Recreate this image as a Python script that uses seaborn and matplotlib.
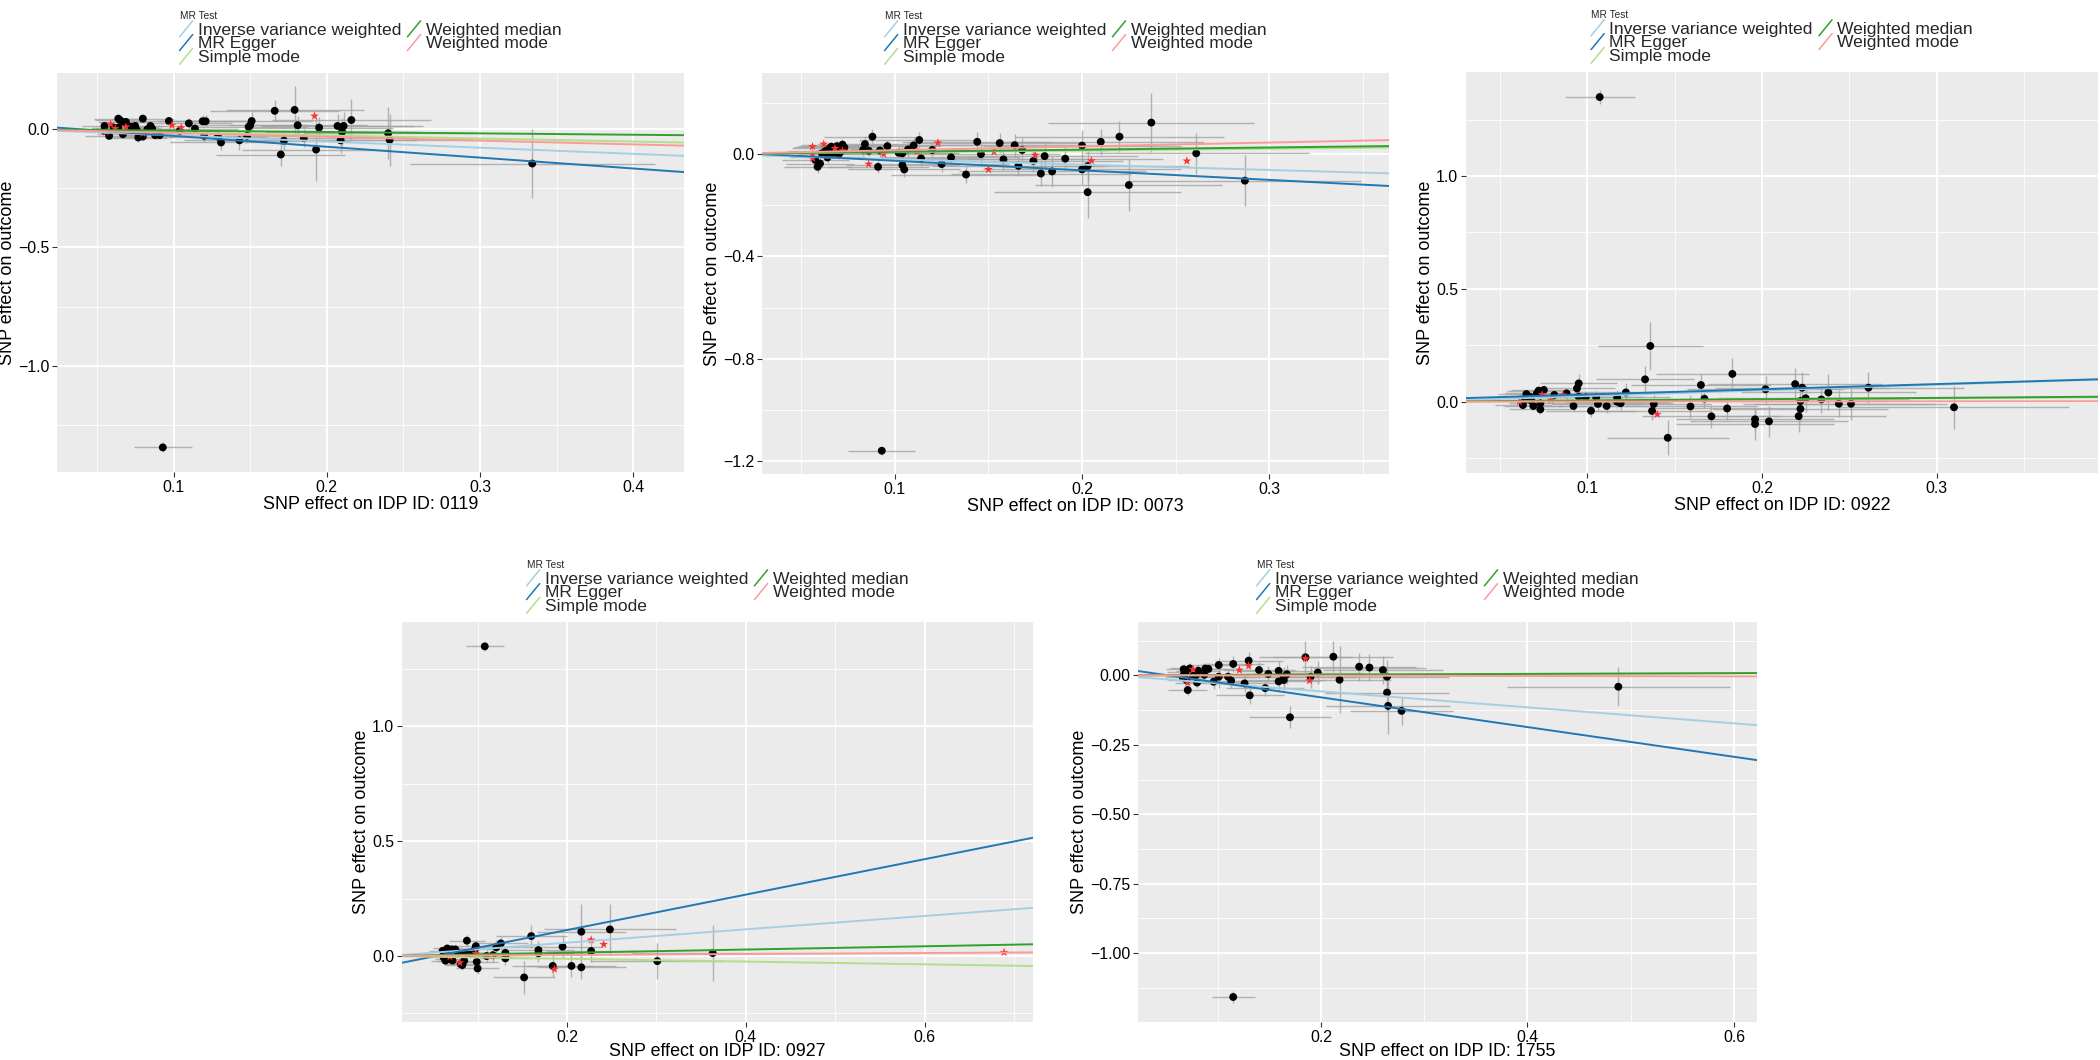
import matplotlib
matplotlib.use('Agg')
import pandas as pd
import matplotlib.pyplot as plt
import seaborn as sns
from matplotlib.lines import Line2D
from matplotlib.legend_handler import HandlerBase

# MR methods and colours (RColorBrewer Paired, as in TwoSampleMR)
methods = ['Inverse variance weighted', 'MR Egger', 'Simple mode', 'Weighted median', 'Weighted mode']
method_colors = ['#a6cee3', '#1f78b4', '#b2df8a', '#33a02c', '#fb9a99']

#Panel 1 - IDP 0119
p1_x = [0.055, 0.055, 0.058, 0.061, 0.064, 0.064, 0.065, 0.067, 0.067, 0.069, 0.071, 0.072, 0.074, 0.075,
        0.076, 0.077, 0.080, 0.080, 0.083, 0.085, 0.086, 0.088, 0.091, 0.097, 0.104, 0.110, 0.114, 0.119,
        0.121, 0.120, 0.129, 0.131, 0.143, 0.148, 0.149, 0.150, 0.151, 0.166, 0.170, 0.172, 0.179, 0.181,
        0.185, 0.193, 0.195, 0.207, 0.209, 0.210, 0.211, 0.216, 0.240, 0.241, 0.334, 0.093]
p1_y = [0.014, -0.007, -0.028, 0.007, 0.045, 0.007, 0.039, -0.021, 0.031, 0.031, 0.011, 0.011, 0.007, 0.014,
        -0.003, -0.035, 0.045, -0.031, 0.0, 0.014, 0.003, -0.025, -0.025, 0.035, -0.007, 0.025, 0.003, 0.034,
        0.034, -0.028, -0.031, -0.056, -0.047, -0.028, 0.010, 0.017, 0.035, 0.078, -0.107, -0.048, 0.082, 0.017,
        -0.037, -0.086, 0.007, 0.014, -0.047, -0.011, 0.014, 0.039, -0.017, -0.045, -0.145, -1.346]
p1_sx = [0.015, 0.014, 0.016, 0.015, 0.016, 0.015, 0.016, 0.017, 0.016, 0.017, 0.018, 0.018, 0.018, 0.018,
         0.019, 0.019, 0.020, 0.020, 0.020, 0.021, 0.021, 0.022, 0.022, 0.025, 0.026, 0.028, 0.028, 0.030,
         0.030, 0.030, 0.032, 0.033, 0.036, 0.037, 0.038, 0.038, 0.040, 0.042, 0.042, 0.043, 0.045, 0.045,
         0.046, 0.048, 0.048, 0.050, 0.050, 0.050, 0.052, 0.052, 0.055, 0.055, 0.080, 0.019]
p1_sy = [0.012, 0.012, 0.015, 0.012, 0.014, 0.012, 0.013, 0.015, 0.013, 0.013, 0.013, 0.013, 0.014, 0.014,
         0.015, 0.018, 0.015, 0.016, 0.015, 0.016, 0.016, 0.017, 0.017, 0.018, 0.020, 0.022, 0.020, 0.025,
         0.025, 0.024, 0.026, 0.030, 0.040, 0.030, 0.035, 0.035, 0.040, 0.045, 0.050, 0.040, 0.100, 0.040,
         0.040, 0.135, 0.045, 0.050, 0.055, 0.060, 0.060, 0.090, 0.110, 0.110, 0.145, 0.021]
p1_rx = [0.056, 0.059, 0.062, 0.069, 0.080, 0.099, 0.105, 0.192]
p1_ry = [-0.011, 0.021, 0.003, 0.010, -0.017, 0.017, 0.007, 0.056]
p1_slope = [-0.26, -0.46, -0.13, -0.058, -0.16]
p1_icpt = [0.0, 0.018, 0.0, 0.0, 0.0]

#Panel 2 - IDP 0073
p2_x = [0.0575, 0.0587, 0.060, 0.061, 0.063, 0.064, 0.065, 0.066, 0.067, 0.069, 0.070, 0.071, 0.072, 0.073,
        0.083, 0.084, 0.086, 0.088, 0.091, 0.092, 0.096, 0.102, 0.104, 0.104, 0.105, 0.107, 0.110, 0.113,
        0.114, 0.120, 0.125, 0.130, 0.138, 0.144, 0.146, 0.156, 0.158, 0.164, 0.166, 0.168, 0.174, 0.178,
        0.180, 0.184, 0.191, 0.200, 0.200, 0.203, 0.203, 0.210, 0.220, 0.225, 0.237, 0.261, 0.287, 0.093]
p2_y = [-0.023, -0.050, -0.037, 0.003, 0.013, -0.013, 0.022, 0.029, 0.003, 0.031, 0.0, 0.009, 0.037, 0.026,
        0.016, 0.039, 0.013, 0.068, -0.050, 0.014, 0.031, 0.005, -0.043, 0.003, -0.060, 0.018, 0.034, 0.055,
        -0.017, 0.016, -0.039, -0.013, -0.080, 0.048, 0.0, 0.043, -0.021, 0.035, -0.046, 0.016, -0.027, -0.076,
        -0.008, -0.068, -0.018, 0.033, -0.060, -0.047, -0.149, 0.048, 0.068, -0.121, 0.123, 0.003, -0.104, -1.160]
p2_sx = [0.018, 0.018, 0.018, 0.020, 0.020, 0.020, 0.020, 0.020, 0.021, 0.021, 0.022, 0.022, 0.022, 0.022,
         0.025, 0.025, 0.025, 0.026, 0.027, 0.027, 0.028, 0.030, 0.030, 0.030, 0.030, 0.031, 0.032, 0.032,
         0.033, 0.035, 0.036, 0.037, 0.040, 0.040, 0.042, 0.044, 0.045, 0.046, 0.046, 0.047, 0.048, 0.048,
         0.050, 0.050, 0.052, 0.053, 0.053, 0.054, 0.050, 0.055, 0.056, 0.050, 0.055, 0.060, 0.062, 0.018]
p2_sy = [0.020, 0.025, 0.020, 0.018, 0.018, 0.020, 0.018, 0.018, 0.018, 0.020, 0.020, 0.020, 0.022, 0.020,
         0.025, 0.030, 0.022, 0.030, 0.025, 0.025, 0.025, 0.028, 0.030, 0.028, 0.030, 0.028, 0.030, 0.030,
         0.030, 0.030, 0.030, 0.030, 0.035, 0.040, 0.040, 0.040, 0.040, 0.045, 0.040, 0.045, 0.045, 0.050,
         0.050, 0.060, 0.050, 0.060, 0.060, 0.060, 0.100, 0.050, 0.060, 0.100, 0.115, 0.080, 0.100, 0.015]
p2_rx = [0.056, 0.056, 0.056, 0.062, 0.068, 0.072, 0.086, 0.094, 0.112, 0.123, 0.150, 0.153, 0.175, 0.205, 0.256]
p2_ry = [0.029, 0.0, -0.017, 0.039, 0.022, 0.013, -0.039, 0.0, 0.010, 0.044, -0.060, 0.009, -0.004, -0.026, -0.027]
p2_slope = [-0.207, -0.373, 0.07, 0.086, 0.15]
p2_icpt = [0.0, 0.011, 0.0, 0.0, 0.0]

#Panel 3 - IDP 0922
p3_x = [0.107, 0.136, 0.133, 0.095, 0.094, 0.183, 0.165, 0.167, 0.202, 0.219, 0.223, 0.238, 0.261, 0.225,
        0.222, 0.234, 0.244, 0.251, 0.310, 0.222, 0.221, 0.196, 0.196, 0.204, 0.180, 0.171, 0.159, 0.146,
        0.137, 0.138, 0.122, 0.117, 0.117, 0.119, 0.111, 0.106, 0.105, 0.102, 0.099, 0.095, 0.092, 0.088,
        0.081, 0.075, 0.072, 0.071, 0.073, 0.073, 0.069, 0.068, 0.067, 0.065, 0.064, 0.063, 0.065]
p3_y = [1.350, 0.247, 0.099, 0.081, 0.059, 0.123, 0.074, 0.013, 0.055, 0.078, 0.062, 0.041, 0.062, 0.015,
        0.003, 0.010, -0.009, -0.009, -0.025, -0.032, -0.064, -0.078, -0.099, -0.087, -0.030, -0.065, -0.021, -0.160,
        -0.041, -0.010, 0.041, 0.019, 0.0, -0.007, -0.019, -0.010, 0.019, -0.040, 0.019, 0.022, -0.019, 0.037,
        0.030, 0.052, 0.049, 0.037, -0.007, -0.034, -0.019, 0.003, 0.022, 0.034, 0.007, -0.015, 0.022]
p3_sx = [0.020, 0.030, 0.028, 0.022, 0.022, 0.044, 0.040, 0.040, 0.045, 0.050, 0.050, 0.050, 0.055, 0.050,
         0.050, 0.050, 0.055, 0.055, 0.066, 0.050, 0.050, 0.045, 0.045, 0.045, 0.042, 0.040, 0.038, 0.035,
         0.033, 0.033, 0.030, 0.030, 0.030, 0.030, 0.028, 0.027, 0.027, 0.026, 0.025, 0.024, 0.023, 0.022,
         0.020, 0.019, 0.018, 0.018, 0.018, 0.018, 0.017, 0.017, 0.016, 0.016, 0.016, 0.016, 0.016]
p3_sy = [0.030, 0.105, 0.060, 0.040, 0.040, 0.070, 0.050, 0.040, 0.060, 0.070, 0.070, 0.080, 0.070, 0.060,
         0.070, 0.060, 0.060, 0.070, 0.095, 0.060, 0.070, 0.050, 0.070, 0.070, 0.050, 0.050, 0.050, 0.077,
         0.040, 0.040, 0.040, 0.035, 0.030, 0.030, 0.030, 0.030, 0.030, 0.030, 0.030, 0.025, 0.025, 0.025,
         0.022, 0.022, 0.020, 0.020, 0.020, 0.022, 0.020, 0.018, 0.018, 0.018, 0.018, 0.018, 0.018]
p3_rx = [0.140, 0.086, 0.079, 0.074, 0.061]
p3_ry = [-0.056, 0.030, 0.007, 0.032, 0.0]
p3_slope = [0.25, 0.23, 0.05, 0.056, 0.005]
p3_icpt = [0.0, 0.009, 0.0, 0.0, 0.0]

#Panel 4 - IDP 0927
p4_x = [0.108, 0.088, 0.061, 0.062, 0.066, 0.064, 0.068, 0.069, 0.071, 0.072, 0.075, 0.078, 0.081, 0.083,
        0.085, 0.086, 0.089, 0.092, 0.097, 0.098, 0.099, 0.100, 0.110, 0.117, 0.121, 0.126, 0.131, 0.131,
        0.152, 0.160, 0.168, 0.168, 0.184, 0.195, 0.205, 0.216, 0.216, 0.227, 0.248, 0.301, 0.363]
p4_y = [1.348, 0.067, 0.023, -0.006, 0.033, -0.020, 0.004, -0.014, 0.029, -0.020, 0.029, 0.012, -0.035, -0.039,
        -0.020, 0.014, 0.014, 0.012, 0.029, 0.043, -0.025, -0.054, 0.0, 0.004, 0.038, 0.055, 0.014, -0.010,
        -0.093, 0.087, 0.026, 0.012, -0.043, 0.041, -0.043, 0.106, -0.049, 0.022, 0.116, -0.022, 0.013]
p4_sx = [0.021, 0.020, 0.015, 0.015, 0.016, 0.016, 0.016, 0.017, 0.017, 0.017, 0.018, 0.018, 0.019, 0.019,
         0.020, 0.020, 0.021, 0.022, 0.023, 0.023, 0.024, 0.024, 0.026, 0.028, 0.028, 0.030, 0.030, 0.030,
         0.035, 0.040, 0.040, 0.040, 0.045, 0.045, 0.050, 0.050, 0.050, 0.050, 0.074, 0.075, 0.090]
p4_sy = [0.020, 0.025, 0.015, 0.015, 0.016, 0.016, 0.015, 0.016, 0.017, 0.017, 0.017, 0.018, 0.020, 0.020,
         0.020, 0.020, 0.020, 0.022, 0.022, 0.025, 0.025, 0.025, 0.025, 0.030, 0.030, 0.030, 0.030, 0.030,
         0.070, 0.050, 0.040, 0.040, 0.050, 0.050, 0.050, 0.120, 0.050, 0.050, 0.110, 0.078, 0.123]
p4_rx = [0.069, 0.080, 0.098, 0.115, 0.186, 0.227, 0.241, 0.689]
p4_ry = [-0.003, -0.029, 0.012, 0.0, -0.057, 0.070, 0.051, 0.016]
p4_slope = [0.291, 0.771, -0.060, 0.071, 0.022]
p4_icpt = [0.0, -0.041, 0.0, 0.0, 0.0]

#Panel 5 - IDP 1755
p5_x = [0.115, 0.488, 0.170, 0.185, 0.212, 0.237, 0.247, 0.260, 0.264, 0.264, 0.265, 0.278, 0.218, 0.197,
        0.190, 0.164, 0.167, 0.164, 0.159, 0.159, 0.149, 0.146, 0.140, 0.131, 0.130, 0.126, 0.115, 0.113,
        0.110, 0.101, 0.101, 0.096, 0.091, 0.088, 0.087, 0.081, 0.080, 0.079, 0.076, 0.073, 0.071, 0.070,
        0.069, 0.067, 0.067, 0.066]
p5_y = [-1.158, -0.041, -0.151, 0.065, 0.067, 0.031, 0.028, 0.019, -0.005, -0.062, -0.110, -0.128, -0.016, 0.010,
        -0.005, -0.005, 0.004, -0.017, 0.016, -0.022, 0.005, -0.046, 0.019, -0.072, 0.053, -0.029, 0.041, -0.019,
        -0.005, 0.037, -0.005, -0.023, 0.023, 0.024, 0.002, 0.017, -0.026, 0.001, -0.002, 0.025, -0.053, -0.017,
        0.013, 0.022, 0.001, -0.007]
p5_sx = [0.021, 0.108, 0.040, 0.045, 0.058, 0.055, 0.055, 0.058, 0.060, 0.060, 0.060, 0.050, 0.050, 0.045,
         0.045, 0.040, 0.040, 0.040, 0.040, 0.040, 0.038, 0.038, 0.035, 0.033, 0.033, 0.032, 0.030, 0.030,
         0.028, 0.026, 0.026, 0.025, 0.024, 0.023, 0.023, 0.021, 0.021, 0.020, 0.020, 0.019, 0.019, 0.018,
         0.018, 0.017, 0.017, 0.017]
p5_sy = [0.020, 0.070, 0.040, 0.060, 0.055, 0.050, 0.050, 0.050, 0.060, 0.070, 0.100, 0.050, 0.120, 0.040,
         0.040, 0.035, 0.035, 0.035, 0.035, 0.035, 0.030, 0.030, 0.030, 0.030, 0.030, 0.030, 0.028, 0.028,
         0.025, 0.025, 0.040, 0.025, 0.022, 0.022, 0.022, 0.020, 0.020, 0.020, 0.020, 0.018, 0.018, 0.018,
         0.018, 0.018, 0.018, 0.018]
p5_rx = [0.185, 0.189, 0.130, 0.121, 0.076, 0.071]
p5_ry = [0.060, -0.019, 0.034, 0.019, 0.022, -0.026]
p5_slope = [-0.288, -0.535, 0.012, 0.013, -0.006]
p5_icpt = [0.0, 0.0277, 0.0, 0.0, 0.0]

#Axis ticks and labels
idp_ids = ['0119', '0073', '0922', '0927', '1755']
p1_xt, p1_xtl = [0.1, 0.2, 0.3, 0.4], ['0.1', '0.2', '0.3', '0.4']
p1_yt, p1_ytl = [0.0, -0.5, -1.0], ['0.0', '\u22120.5', '\u22121.0']
p2_xt, p2_xtl = [0.1, 0.2, 0.3], ['0.1', '0.2', '0.3']
p2_yt, p2_ytl = [0.0, -0.4, -0.8, -1.2], ['0.0', '\u22120.4', '\u22120.8', '\u22121.2']
p3_xt, p3_xtl = [0.1, 0.2, 0.3], ['0.1', '0.2', '0.3']
p3_yt, p3_ytl = [0.0, 0.5, 1.0], ['0.0', '0.5', '1.0']
p4_xt, p4_xtl = [0.2, 0.4, 0.6], ['0.2', '0.4', '0.6']
p4_yt, p4_ytl = [0.0, 0.5, 1.0], ['0.0', '0.5', '1.0']
p5_xt, p5_xtl = [0.2, 0.4, 0.6], ['0.2', '0.4', '0.6']
p5_yt, p5_ytl = [0.0, -0.25, -0.5, -0.75, -1.0], ['0.00', '\u22120.25', '\u22120.50', '\u22120.75', '\u22121.00']


class SlashKey(HandlerBase):
    #ggplot abline legend key: a diagonal stroke
    def create_artists(self, legend, orig_handle, xdescent, ydescent, width, height, fontsize, trans):
        x0, y0 = -xdescent, -ydescent
        ln = Line2D([x0, x0 + width], [y0 - 0.15 * height, y0 + 1.1 * height],
                    color=orig_handle.get_color(), lw=1.1, transform=trans)
        return [ln]


sns.set_theme(style='darkgrid', rc={'axes.facecolor': '#EBEBEB', 'grid.color': 'white',
                                    'figure.facecolor': 'white'})
plt.rcParams['font.family'] = ['Liberation Sans', 'DejaVu Sans']

fig = plt.figure(figsize=(21, 10.6), dpi=100)
W, H = 2100, 1060

panels = [
    dict(box=(57, 684, 73, 472), xlim=(0.024, 0.433), ylim=(-1.45, 0.238),
         x=p1_x, y=p1_y, sx=p1_sx, sy=p1_sy, rx=p1_rx, ry=p1_ry, b=p1_slope, a=p1_icpt,
         xt=p1_xt, xtl=p1_xtl, yt=p1_yt, ytl=p1_ytl, step=(0.05, 0.25), xpad=1),
    dict(box=(762, 1389, 73, 474), xlim=(0.029, 0.364), ylim=(-1.251, 0.317),
         x=p2_x, y=p2_y, sx=p2_sx, sy=p2_sy, rx=p2_rx, ry=p2_ry, b=p2_slope, a=p2_icpt,
         xt=p2_xt, xtl=p2_xtl, yt=p2_yt, ytl=p2_ytl, step=(0.05, 0.2), xpad=1),
    dict(box=(1466, 2098, 72, 473), xlim=(0.0304, 0.3925), ylim=(-0.316, 1.461),
         x=p3_x, y=p3_y, sx=p3_sx, sy=p3_sy, rx=p3_rx, ry=p3_ry, b=p3_slope, a=p3_icpt,
         xt=p3_xt, xtl=p3_xtl, yt=p3_yt, ytl=p3_ytl, step=(0.05, 0.25), xpad=1),
    dict(box=(402, 1033, 622, 1022), xlim=(0.0154, 0.7213), ylim=(-0.287, 1.454),
         x=p4_x, y=p4_y, sx=p4_sx, sy=p4_sy, rx=p4_rx, ry=p4_ry, b=p4_slope, a=p4_icpt,
         xt=p4_xt, xtl=p4_xtl, yt=p4_yt, ytl=p4_ytl, step=(0.1, 0.25), xpad=-1),
    dict(box=(1138, 1757, 622, 1022), xlim=(0.0228, 0.6223), ylim=(-1.248, 0.192),
         x=p5_x, y=p5_y, sx=p5_sx, sy=p5_sy, rx=p5_rx, ry=p5_ry, b=p5_slope, a=p5_icpt,
         xt=p5_xt, xtl=p5_xtl, yt=p5_yt, ytl=p5_ytl, step=(0.1, 0.125), xpad=-1),
]

for p, idp in zip(panels, idp_ids):
    l, r, t, b = p['box']
    ax = fig.add_axes([l / W, 1 - b / H, (r - l) / W, (b - t) / H])
    df = pd.DataFrame({'bx': p['x'], 'by': p['y'], 'sx': p['sx'], 'sy': p['sy']})
    df_red = pd.DataFrame({'bx': p['rx'], 'by': p['ry']})

    ax.errorbar(df['bx'], df['by'], xerr=df['sx'], yerr=df['sy'], fmt='none',
                ecolor='#a3a3a3', elinewidth=1.0, capsize=0, alpha=0.8, zorder=2)
    sns.scatterplot(data=df, x='bx', y='by', color='black', s=32, edgecolor='none', ax=ax, zorder=3)
    sns.scatterplot(data=df_red, x='bx', y='by', color='#ff3030', marker='*', s=45,
                    edgecolor='none', ax=ax, zorder=3)

    handles = []
    for m, c, slope, icpt in zip(methods, method_colors, p['b'], p['a']):
        ax.axline((0, icpt), slope=slope, color=c, lw=1.4, zorder=4)
        handles.append(Line2D([], [], color=c, lw=1.1, label=m))

    ax.set_xlim(p['xlim'])
    ax.set_ylim(p['ylim'])
    ax.set_xticks(p['xt'])
    ax.set_xticklabels(p['xtl'])
    ax.set_yticks(p['yt'])
    ax.set_yticklabels(p['ytl'])

    #minor grid at the midpoints, like ggplot
    sx_, sy_ = p['step']
    mx = [v for v in [i * sx_ for i in range(-2, 20)] if p['xlim'][0] < v < p['xlim'][1] and round(v / (2 * sx_), 6) % 1 != 0]
    my = [v for v in [i * sy_ for i in range(-14, 14)] if p['ylim'][0] < v < p['ylim'][1] and round(v / (2 * sy_), 6) % 1 != 0]
    ax.set_xticks(mx, minor=True)
    ax.set_yticks(my, minor=True)
    ax.grid(which='major', color='white', lw=1.3)
    ax.grid(which='minor', color='white', lw=0.6)
    ax.tick_params(which='major', bottom=True, left=True, length=3.5, width=0.8, color='#333333',
                   labelsize=11.4, labelcolor='black', pad=2)
    ax.tick_params(which='minor', length=0)
    for s in ax.spines.values():
        s.set_visible(False)

    ax.set_xlabel('SNP effect on IDP ID: ' + idp, fontsize=12.9, color='black', labelpad=p['xpad'])
    ax.set_ylabel('SNP effect on outcome', fontsize=13, color='black', labelpad=1.5)

    leg = ax.legend(handles=handles, title='MR Test', ncol=2, loc='lower center',
                    bbox_to_anchor=(0.5, 1.0), borderaxespad=0.45, frameon=False,
                    fontsize=12.6, title_fontsize=7.3, alignment='left',
                    handlelength=0.75, handleheight=0.75, handletextpad=0.3,
                    columnspacing=0.35, labelspacing=-0.1, borderpad=0.0,
                    handler_map={Line2D: SlashKey()})
    leg._legend_box.sep = 1

fig.savefig('out.png', dpi=100)
